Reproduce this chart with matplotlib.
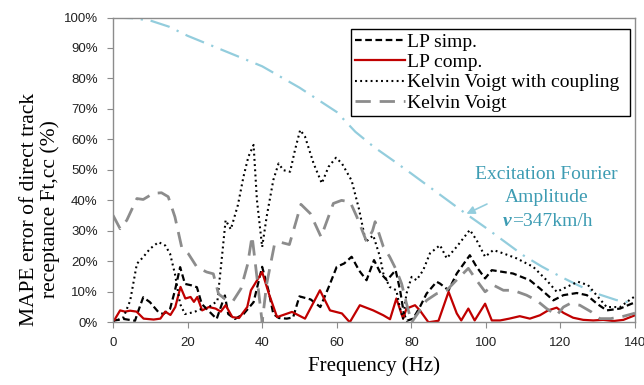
import matplotlib
matplotlib.use("Agg")
import matplotlib.pyplot as plt
from matplotlib.ticker import FuncFormatter

# ---------------- data ----------------
exc_f = [0, 5, 10, 15, 20, 25, 30, 35, 40, 45, 50, 55, 60, 65, 70, 75, 80, 85, 90,
         95, 100, 105, 110, 115, 120, 125, 130, 135, 140]
exc_v = [100, 99.8, 99, 97, 94, 91.5, 89, 86.5, 84, 80.5, 77, 73, 69, 62.5, 57.5,
         53.2, 48.8, 44.3, 39.8, 35.3, 31, 26.5, 22, 18.3, 15, 12, 9.3, 7.3, 6.2]

lps_f = [0, 2.8, 5.9, 6.8, 8.1, 9.9, 12.2, 13.5, 15.3, 16.6, 18, 19.3, 21.1, 22.5,
         23.8, 25.6, 27.8, 30, 30.9, 32.7, 35, 37.7, 40, 41.7, 43, 44.5, 46.6, 48.3,
         50, 53, 55.6, 58, 60, 62, 64, 66, 68, 70, 71.8, 73.5, 75.8, 77, 78, 78.8,
         80.5, 82.3, 84.1, 86.8, 87.7, 90, 92.2, 95.7, 97.5, 99.8, 101.6, 104.7,
         107.3, 111.8, 114.5, 118.1, 120.8, 124.4, 127.1, 129.8, 132.4, 136, 139.1, 140]
lps_v = [0.5, 1.1, 0.5, 3.8, 8.2, 6.6, 3.3, 2.7, 4.4, 10.4, 18.1, 12.6, 12.1, 11.5,
         6, 3.8, 1.1, 8.8, 2.7, 1.1, 2.7, 6.6, 18.2, 10.4, 2.7, 1.4, 1.2, 1.6, 8.5,
         7.5, 5, 12, 18.2, 19.3, 21.5, 17, 13.8, 20.4, 16, 13.8, 17.1, 10.5, 2.9, 0.5,
         1.2, 5, 9.4, 13.3, 12.7, 10.5, 16, 22, 18.2, 14.4, 17.1, 16.5, 16, 13.8,
         11.1, 7.2, 8.9, 9.6, 8.9, 6.1, 3.9, 4.5, 6.1, 6.5]

lpc_f = [0, 1.9, 3.2, 4.6, 6.3, 8.2, 10.9, 12.7, 14, 15.4, 16.7, 18.1, 19.4, 20.8,
         21.7, 22.6, 23.9, 25.7, 27.5, 28.9, 30.2, 32, 33.8, 36, 37, 40, 41.8, 44,
         48, 51.5, 55.5, 58.2, 61.4, 63.5, 66.2, 69.8, 72.5, 74.3, 76, 77.8, 78.7,
         81, 82.3, 84.6, 87.3, 90, 92.2, 93.4, 95.3, 97, 99.8, 101.6, 103.8, 106.3,
         109.1, 111.8, 114.5, 116.7, 119, 120.8, 123.4, 126.1, 128.8, 131.5, 134.2,
         136.9, 140]
lpc_v = [0, 3.9, 3.5, 3.8, 3.5, 1.2, 0.9, 1.2, 3.5, 2.4, 5, 11.6, 7.8, 8.3, 6.7, 8.3,
         3.9, 5, 4.5, 3.5, 5.6, 1.7, 1.4, 5, 10.5, 16.5, 9.4, 1.7, 3.4, 1.2, 10.5,
         3.9, 2.9, 0, 5.6, 3.9, 2.3, 1, 7.8, 1.2, 4.5, 5.6, 3.9, 0, 0.5, 10, 2.9, 0.6,
         4.5, 0.6, 6.1, 0.6, 0.6, 1.2, 2, 1.2, 2.3, 3.9, 4.8, 3.1, 1.5, 0.8, 0.6, 0.8,
         0.4, 0.8, 2.3]

kvc_f = [0, 2.8, 4.6, 6.4, 8.1, 9.9, 12.2, 14, 15.3, 16.6, 18, 19.3, 21.6, 23.8,
         25.6, 28, 29.3, 30.2, 31.6, 33.5, 35, 36.3, 37.7, 38.6, 40, 41.2, 43, 44.4,
         45.7, 47.5, 48.8, 50.2, 51.5, 53.8, 56, 57.8, 59.8, 61.4, 64, 66, 67.8, 69.8,
         71.6, 72.5, 74.2, 76, 76.9, 77.8, 78.7, 80.1, 81.4, 83.2, 85, 87.7, 89.5,
         92.2, 95.7, 97.5, 99.8, 102, 104.7, 108.2, 112.7, 116.3, 119, 121.7, 124.7,
         127.4, 130.1, 132.4, 136, 139.1, 140]
kvc_v = [0, 1.6, 7.1, 19.2, 21.4, 24.1, 26.3, 25.2, 22.5, 15.9, 6, 2.7, 3.3, 4.4, 4.9,
         7, 22.5, 33.5, 30.5, 38.5, 47.8, 54.3, 58.2, 40.1, 24.7, 34.6, 46.7, 52.1,
         49.9, 49.4, 56.5, 63.1, 60.9, 52.1, 45.6, 51, 54, 52.1, 46.5, 37, 26.4, 28.5,
         21.5, 16, 11.6, 10.5, 5, 1.2, 9.4, 14.9, 13.8, 17.1, 22.6, 25.3, 21, 24.8,
         30.3, 27, 21.5, 23.7, 22.6, 21, 18.2, 13.8, 10, 11.6, 13.3, 12.2, 8.3, 5, 5,
         7.8, 8.5]

kv_f = [0, 1.9, 3.7, 6.4, 8.1, 10.8, 13, 14.8, 16.6, 18.4, 20.2, 22.5, 25.1, 26.9,
        28.3, 30, 32.1, 34.3, 36.1, 37.3, 38.6, 40, 41.2, 43.3, 44.8, 47.3, 49.2,
        50.4, 52.9, 55.8, 59.1, 61.3, 63.6, 65.4, 68, 69.6, 70.3, 72.5, 74.2, 76,
        77.4, 78.7, 80.1, 82.3, 84.1, 86.8, 89.5, 92.1, 95.3, 97.5, 99.8, 102, 104.7,
        107.3, 110.9, 113.6, 116.3, 119, 120.8, 122.5, 125.2, 128.3, 130.6, 133.5,
        137, 140]
kv_v = [35.1, 30.7, 33.5, 40.6, 40.3, 42.3, 42.5, 41.2, 34.6, 24.7, 22.5, 18.1, 16.5,
        15.9, 9.3, 7.7, 6.8, 11, 19, 28.3, 14.8, 0, 12.5, 25.5, 26.3, 25.5, 33.5,
        38.7, 35.7, 28, 39, 40, 39.5, 34.6, 26.5, 30, 33, 24.8, 21.5, 17.1, 12.7, 6.2,
        0, 3.9, 7.2, 9.4, 10.5, 13.8, 17.7, 13.8, 10, 12.2, 10.5, 10.5, 8.9, 7.2, 4.5,
        2.3, 5, 6.1, 5.6, 3.4, 1.2, 1.2, 2, 3]

x_ticks = [0, 20, 40, 60, 80, 100, 120, 140]
y_ticks = [0, 10, 20, 30, 40, 50, 60, 70, 80, 90, 100]

# ---------------- figure ----------------
fig = plt.figure(figsize=(6.44, 3.85), dpi=100)
ax = fig.add_axes([0.1755, 0.1629, 0.8105, 0.7916])

serif = ["Liberation Serif", "DejaVu Serif"]
sans = ["Liberation Sans", "DejaVu Sans"]
cyan = "#93cddd"

ax.plot(exc_f, exc_v, color=cyan, lw=1.6, dashes=(9, 3.5, 1, 3.5))
ax.plot(lps_f, lps_v, color="black", lw=1.6, dashes=(3.0, 1.6), label="LP simp.")
ax.plot(lpc_f, lpc_v, color="#c00000", lw=1.6, label="LP comp.")
ax.plot(kvc_f, kvc_v, color="black", lw=1.5, dashes=(0.9, 1.6),
        label="Kelvin Voigt with coupling")
ax.plot(kv_f, kv_v, color="#8c8c8c", lw=2.0, dashes=(5.5, 3.2), label="Kelvin Voigt")

ax.set_xlim(0, 140)
ax.set_ylim(0, 100)
ax.set_xticks(x_ticks)
ax.set_yticks(y_ticks)
ax.yaxis.set_major_formatter(FuncFormatter(lambda v, p: f"{int(v)}%"))

for s in ax.spines.values():
    s.set_color("#8c8c8c")
    s.set_linewidth(1.0)
ax.tick_params(axis="both", direction="out", length=4.5, color="#8c8c8c",
               labelcolor="#222222", labelsize=9.5)
for lab in ax.get_xticklabels() + ax.get_yticklabels():
    lab.set_family(sans)
ax.tick_params(axis="x", pad=6)
ax.tick_params(axis="y", pad=6.5)

ax.set_xlabel("Frequency (Hz)", family=serif, fontsize=15, labelpad=5)
fig.text(40 / 644, 1 - 209 / 385, "MAPE error of direct track\nreceptance Ft,cc (%)",
         family=serif, fontsize=15.5, linespacing=1.15, rotation=90,
         ha="center", va="center", multialignment="center")

leg = ax.legend(loc="upper left", bbox_to_anchor=(0.456, 0.963, 0.534, 0.0),
                mode="expand", prop={"family": serif, "size": 14},
                frameon=True, fancybox=False, edgecolor="black", framealpha=1,
                handlelength=2.55, handletextpad=0.1, labelspacing=0.14,
                borderpad=0.22, borderaxespad=0)
leg.get_frame().set_linewidth(1.0)

teal = "#3d9cb3"
ax.text(116.2, 48.6, "Excitation Fourier", family=serif, fontsize=14, color=teal,
        ha="center", va="center")
ax.text(116.2, 40.8, "Amplitude", family=serif, fontsize=14, color=teal,
        ha="center", va="center")
ax.text(106.9, 33.1, "ν", family=serif, fontsize=14, color=teal, ha="right",
        va="center", fontweight="bold", fontstyle="italic")
ax.text(106.9, 33.1, "=347km/h", family=serif, fontsize=14, color=teal, ha="left",
        va="center")
ax.annotate("", xy=(94.8, 35.6), xytext=(100.3, 38.8),
            arrowprops=dict(arrowstyle="-|>", color=cyan, lw=1.2,
                            mutation_scale=12, shrinkA=0, shrinkB=0))

fig.savefig("out.png", dpi=100)
